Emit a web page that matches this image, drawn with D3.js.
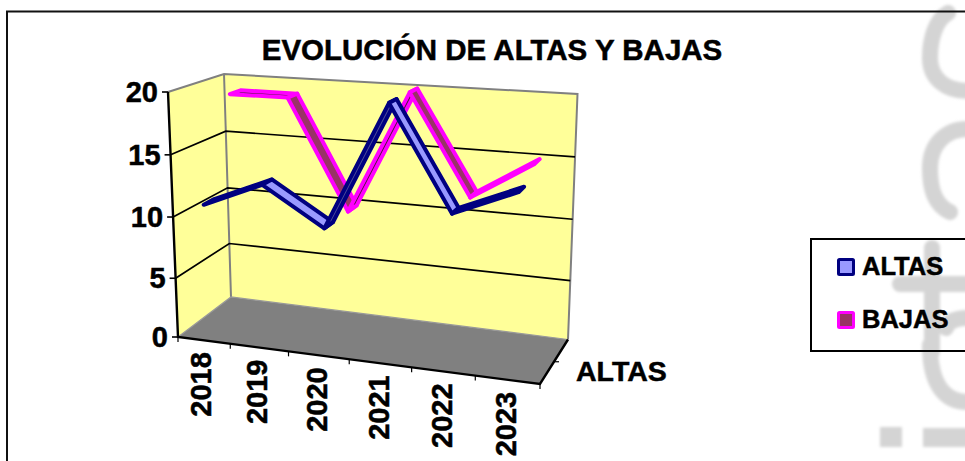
<!DOCTYPE html>
<html><head><meta charset="utf-8">
<script src="https://cdn.jsdelivr.net/npm/d3@7"></script>
<style>html,body{margin:0;padding:0;background:#fff}svg{display:block}text{font-family:"Liberation Sans",Arial,sans-serif;font-weight:bold;fill:#000;stroke:#000;stroke-width:.5px}</style>
</head><body><svg id="c" width="965" height="461"></svg>
<script>
const categories=["2018","2019","2020","2021","2022","2023"];
const altas=[11,13,10,20,12,14];
const bajas=[19,19,10,20,12,15];
const valueTicks=[0,5,10,15,20];
const titleText="EVOLUCIÓN DE ALTAS Y BAJAS";
const seriesAxisLabel="ALTAS";

const svg=d3.select("#c");

// watermark (decorative, behind the chart)
const defs=svg.append("defs");
defs.append("filter").attr("id","bl").append("feGaussianBlur").attr("stdDeviation",1.6);
const wm=svg.append("g").attr("fill","none").attr("stroke","#d4d4d4").attr("stroke-width",16).attr("stroke-linecap","round").attr("filter","url(#bl)");
["M948,13C935,20 930,40 930,58C930,78 945,91 968,91",
 "M968,129C945,129 930,145 930,168C930,190 935,205 950,212",
 "M932,248L932,352",
 "M900,284L968,284",
 "M968,318C955,318 948,322 946,328",
 "M930,345C930,385 945,402 968,402"].forEach(d=>wm.append("path").attr("d",d));
wm.append("path").attr("d","M880,437L902,437").attr("stroke-width",20).attr("stroke-linecap","butt");
wm.append("path").attr("d","M923,437.500L968,437.500").attr("stroke-width",19).attr("stroke-linecap","butt");

// outer frame
svg.append("path").attr("d","M7,462V11.5H966").attr("fill","none").attr("stroke","#111").attr("stroke-width",2);

// 3-D box corners: F/B front/back, L/R left/right, 0/T bottom/top
const FL0=[178,337],FLT=[168,92],FR0=[540,384],FRT=[554,114],
      BL0=[231,297],BLT=[224,74],BR0=[568,339.5],BRT=[577.5,94];
const uAxis=d3.scalePow().exponent(1.08).domain([0,categories.length]).range([0,1]);
const uMark=d3.scalePow().exponent(1.06).domain([0,categories.length]).range([0,1]);
const vScale=d3.scalePow().exponent(1.03).domain([0,20]).range([0,1]);
function project(i,val,d,uScale=uAxis){
  const u=uScale(i),v=vScale(val);
  const mix=(a,b,t)=>[a[0]+(b[0]-a[0])*t,a[1]+(b[1]-a[1])*t];
  const f0=mix(FL0,FR0,u),fT=mix(FLT,FRT,u),b0=mix(BL0,BR0,u),bT=mix(BLT,BRT,u);
  return mix(mix(f0,b0,d),mix(fT,bT,d),v);
}
const n=categories.length;
const line=d3.line();
const poly=p=>line(p)+"Z";

// walls and floor
svg.append("path").attr("d",poly([project(0,0,0),project(0,20,0),project(0,20,1),project(0,0,1)])).attr("fill","#FFFF99");
svg.append("path").attr("d",poly([project(0,0,1),project(0,20,1),project(n,20,1),project(n,0,1)])).attr("fill","#FFFF99");
svg.append("path").attr("d",poly([project(0,0,0),project(0,0,1),project(n,0,1),project(n,0,0)])).attr("fill","#808080");
// wall edges
svg.append("path").attr("d",line([project(0,20,0),project(0,20,1),project(n,20,1),project(n,0,1)])).attr("fill","none").attr("stroke","#808080").attr("stroke-width",2);
svg.append("path").attr("d",line([project(0,20,1),project(0,0,1)])).attr("fill","none").attr("stroke","#808080").attr("stroke-width",2);
svg.append("path").attr("d",line([project(0,0,0),project(0,0,1),project(n,0,1)])).attr("fill","none").attr("stroke","#999").attr("stroke-width",1.2);
// gridlines
valueTicks.filter(t=>t>0&&t<20).forEach(t=>{
  svg.append("path").attr("d",line([project(0,t,0),project(0,t,1),project(n,t,1)])).attr("fill","none").attr("stroke","#000").attr("stroke-width",1.7);
});
// axes
const ax=svg.append("g").attr("fill","none").attr("stroke","#000");
ax.append("path").attr("d",line([project(0,20,0),project(0,0,0),project(n,0,0),project(n,0,1)])).attr("stroke-width",2.4);
valueTicks.forEach(t=>{const p=project(0,t,0);ax.append("path").attr("d",line([[p[0]-6,p[1]],p])).attr("stroke-width",1.6);});
d3.range(n+1).forEach(i=>{const p=project(i,0,0);ax.append("path").attr("d",line([p,[p[0],p[1]+5]])).attr("stroke-width",1.2);});
{const p=project(n,0,0.5);ax.append("path").attr("d",line([p,[p[0]+5,p[1]]])).attr("stroke-width",1.2);}

// ribbons
function ribbon(vals,d0,d1,edge,down,up){
  const g=svg.append("g").attr("stroke",edge).attr("stroke-width",4).attr("stroke-linejoin","round");
  d3.pairs(vals).forEach(([a,b],i)=>{
    const q=[project(i+.5,a,d0,uMark),project(i+1.5,b,d0,uMark),project(i+1.5,b,d1,uMark),project(i+.5,a,d1,uMark)];
    g.append("path").attr("d",poly(q)).attr("fill",b<a?down:up);
  });
}
ribbon(bajas,0.63,0.83,"#FF00FF","#993366","#4D1A33");
ribbon(altas,0.08,0.28,"#000080","#9999FF","#4C4C99");

// value labels
valueTicks.forEach(t=>{const p=project(0,t,0);
  svg.append("text").attr("x",p[0]-10).attr("y",p[1]+10).attr("text-anchor","end").attr("font-size",29).text(t);});
// category labels
categories.forEach((c,i)=>{const p=project(i+.5,0,0);
  svg.append("text").attr("transform",`translate(${p[0]+8.5},${p[1]+12}) rotate(-90)`).attr("text-anchor","end").attr("font-size",29).text(c);});
// title
svg.append("text").attr("x",492).attr("y",60).attr("text-anchor","middle").attr("font-size",29.5).text(titleText);
svg.append("text").attr("x",576).attr("y",381).attr("font-size",28.500).text(seriesAxisLabel);

// legend
svg.append("path").attr("d","M966,239H811V351H966").attr("fill","none").attr("stroke","#000").attr("stroke-width",2);
const legendNames=["ALTAS","BAJAS"],legendEdge=["#000080","#FF00FF"],legendFill=["#9999FF","#993366"],legendY=[275,328];
legendNames.forEach((s,i)=>{
  svg.append("rect").attr("x",838.5).attr("y",legendY[i]-15.5).attr("width",15).attr("height",15).attr("rx",1)
    .attr("fill",legendFill[i]).attr("stroke",legendEdge[i]).attr("stroke-width",3);
  svg.append("text").attr("x",862).attr("y",legendY[i]).attr("font-size",25.5).text(s);
});
</script></body></html>
